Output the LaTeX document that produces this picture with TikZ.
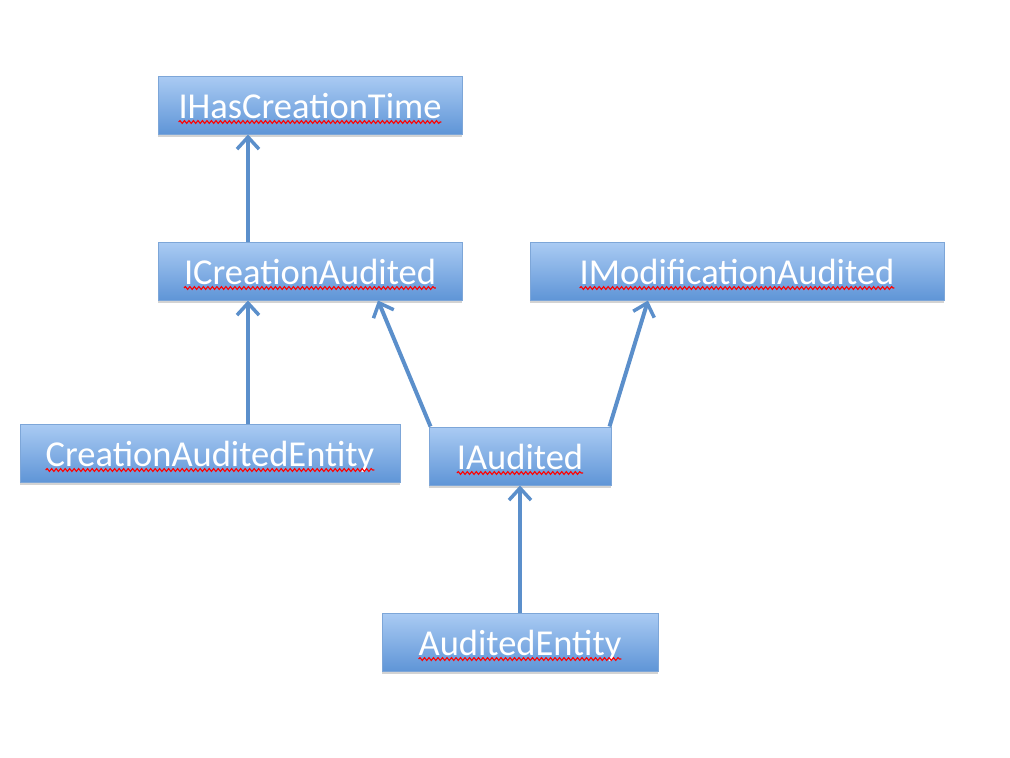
\documentclass[tikz,border=0pt]{standalone}
\usepackage{fontspec}
\setmainfont{Carlito}
\usetikzlibrary{arrows.meta,shadows,decorations.pathmorphing,calc}
\definecolor{boxtop}{HTML}{AACBF3}
\definecolor{boxbot}{HTML}{5F95D7}
\definecolor{boxline}{HTML}{7DA6D8}
\definecolor{arrowc}{HTML}{5B8FCB}
\begin{document}
\begin{tikzpicture}[x=1pt,y=-1pt,
  cls/.style={draw=boxline,line width=1pt,top color=boxtop,bottom color=boxbot,
    minimum height=58pt,inner sep=0pt,text height=26pt,text depth=0pt,text=white,
    font=\fontsize{36.5}{36.5}\selectfont,
    drop shadow={opacity=0.35,shadow xshift=0pt,shadow yshift=-3pt}},
  inherit/.style={draw=arrowc,line width=4pt,-{Straight Barb[length=12pt,width=22pt,line width=3.5pt]}},
  spelling/.style={red,line width=1.1pt,decorate,decoration={snake,amplitude=1.4pt,segment length=4.5pt}}]
\useasboundingbox (0,0) rectangle (1010,758);

\node[cls,minimum width=304pt] (hct) at (310,105) {IHasCreationTime};
\node[cls,minimum width=304pt] (ica) at (310,271) {ICreationAudited};
\node[cls,minimum width=414pt] (ima) at (737,271) {IModificationAudited};
\node[cls,minimum width=380pt] (cae) at (210,453) {CreationAuditedEntity};
\node[cls,minimum width=182pt] (iau) at (520,456) {IAudited};
\node[cls,minimum width=276pt] (aen) at (520,642) {AuditedEntity};

% red squiggles under each name
\foreach \n in {hct,ica,ima,cae,iau,aen}
  \draw[spelling] ([yshift=-4pt]\n.text) -- ([yshift=-4pt]$(\n.text)!2!(\n.base)$);

\draw[inherit] ([xshift=-62pt]ica.north) -- ([xshift=-62pt]hct.south);
\draw[inherit] ([xshift=38pt]cae.north) -- ([xshift=-62pt]ica.south);
\draw[inherit] ([xshift=2pt]iau.north west) -- ([xshift=68pt]ica.south);
\draw[inherit] ([xshift=-2pt]iau.north east) -- ([xshift=-89pt]ima.south);
\draw[inherit] (aen.north) -- (iau.south);
\end{tikzpicture}
\end{document}
